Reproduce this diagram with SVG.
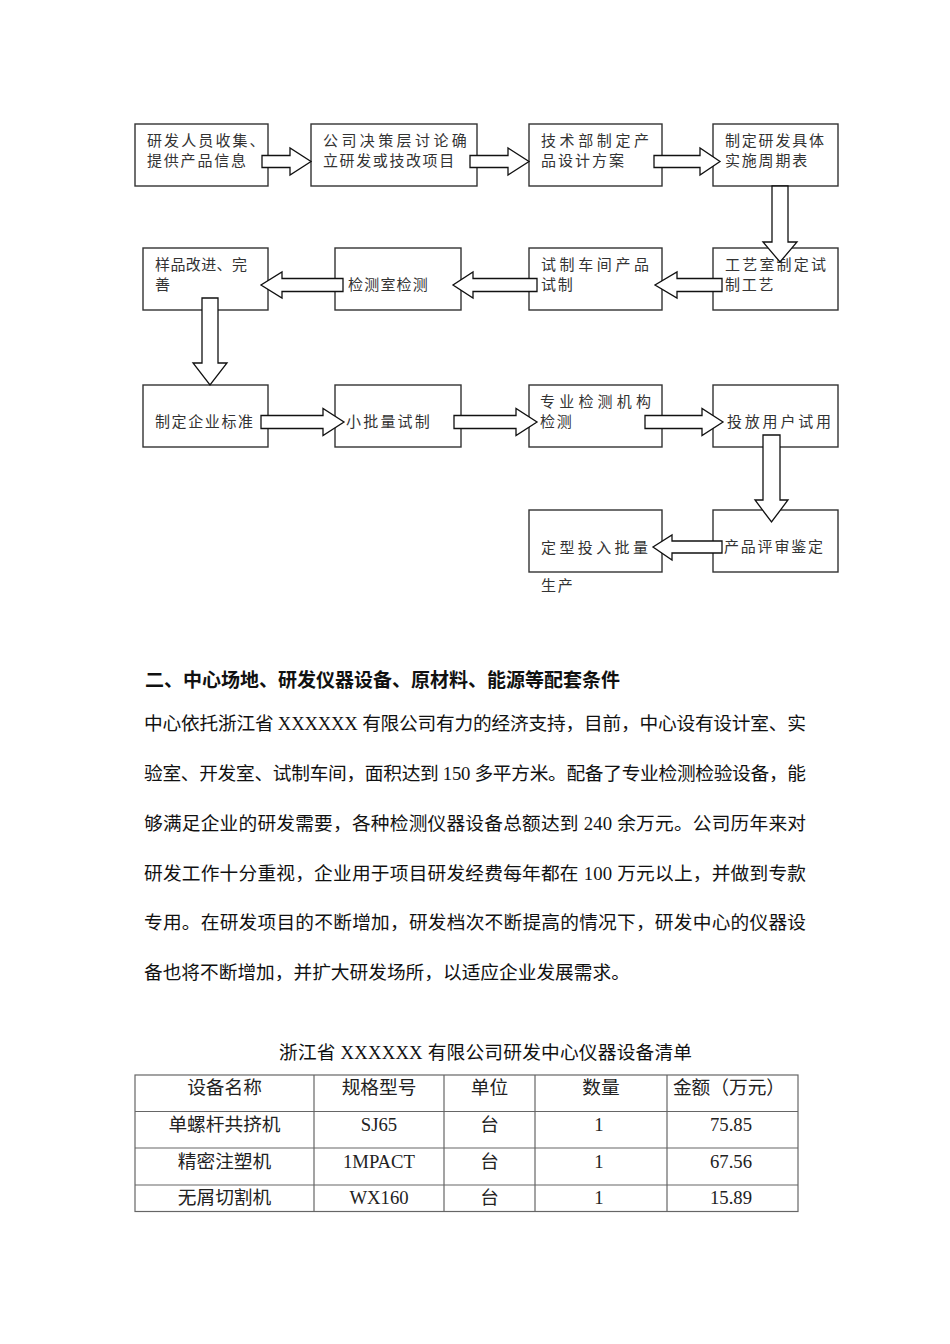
<svg xmlns="http://www.w3.org/2000/svg" width="950" height="1344" viewBox="0 0 950 1344">
<style>
.bx{fill:#fff;stroke:#333;stroke-width:1.4}
.ar{fill:#fff;stroke:#111;stroke-width:1.3;stroke-linejoin:miter}
.bt{font-family:"Noto Sans CJK SC","Noto Sans",sans-serif;font-size:15px;fill:#333}
.p{font-family:"Liberation Serif","Noto Sans CJK SC",serif;font-size:18.7px;fill:#111}
.h{font-family:"Noto Sans CJK SC",sans-serif;font-size:19px;font-weight:bold;fill:#111}
.tl{stroke:#666;stroke-width:1.2;fill:none}
.tc{font-family:"Liberation Serif","Noto Sans CJK SC",serif;font-size:18.7px;fill:#222;text-anchor:middle}
</style>
<rect width="950" height="1344" fill="#fff"/>

<g id="n1"><rect class="bx" x="135" y="124" width="133" height="62"/>
<text class="bt" x="147" y="146" letter-spacing="2.1">研发人员收集、</text>
<text class="bt" x="147" y="166" letter-spacing="1.8">提供产品信息</text></g>
<g id="n2"><rect class="bx" x="311" y="124" width="166" height="62"/>
<text class="bt" x="323" y="146" letter-spacing="3.4">公司决策层讨论确</text>
<text class="bt" x="323" y="166" letter-spacing="1.6">立研发或技改项目</text></g>
<g id="n3"><rect class="bx" x="529" y="124" width="133" height="62"/>
<text class="bt" x="541" y="146" letter-spacing="3.6">技术部制定产</text>
<text class="bt" x="541" y="166" letter-spacing="2">品设计方案</text></g>
<g id="n4"><rect class="bx" x="713" y="124" width="125" height="62"/>
<text class="bt" x="725" y="146" letter-spacing="1.8">制定研发具体</text>
<text class="bt" x="725" y="166" letter-spacing="1.8">实施周期表</text></g>

<g id="n5"><rect class="bx" x="143" y="248" width="125" height="62"/>
<text class="bt" x="155" y="270" letter-spacing="0.4">样品改进、完</text>
<text class="bt" x="155" y="290">善</text></g>
<g id="n6"><rect class="bx" x="335" y="248" width="126" height="62"/>
<text class="bt" x="348" y="290" letter-spacing="1.2">检测室检测</text></g>
<g id="n7"><rect class="bx" x="529" y="248" width="133" height="62"/>
<text class="bt" x="541" y="270" letter-spacing="3.6">试制车间产品</text>
<text class="bt" x="541" y="290" letter-spacing="1.7">试制</text></g>
<g id="n8"><rect class="bx" x="713" y="248" width="125" height="62"/>
<text class="bt" x="725" y="270" letter-spacing="2.2">工艺室制定试</text>
<text class="bt" x="725" y="290" letter-spacing="1.7">制工艺</text></g>

<g id="n9"><rect class="bx" x="143" y="385" width="125" height="62"/>
<text class="bt" x="155" y="427" letter-spacing="1.6">制定企业标准</text></g>
<g id="n10"><rect class="bx" x="335" y="385" width="126" height="62"/>
<text class="bt" x="346" y="427" letter-spacing="2.2">小批量试制</text></g>
<g id="n11"><rect class="bx" x="529" y="385" width="133" height="62"/>
<text class="bt" x="540" y="407" letter-spacing="4.2">专业检测机构</text>
<text class="bt" x="540" y="427" letter-spacing="1.7">检测</text></g>
<g id="n12"><rect class="bx" x="713" y="385" width="125" height="62"/>
<text class="bt" x="727" y="427" letter-spacing="2.8">投放用户试用</text></g>

<g id="n13"><rect class="bx" x="713" y="510" width="125" height="62"/>
<text class="bt" x="724" y="552" letter-spacing="1.8">产品评审鉴定</text></g>
<g id="n14"><rect class="bx" x="529" y="510" width="133" height="62"/>
<text class="bt" x="541" y="553" letter-spacing="3.4">定型投入批量</text>
<text class="bt" x="541" y="591" letter-spacing="1.7">生产</text></g>

<g id="connectors">
<polygon class="ar" points="262,155.5 290,155.5 290,148 311,161.5 290,175 290,167.5 262,167.5"/>
<polygon class="ar" points="470,155.5 508,155.5 508,148 529,161.5 508,175 508,167.5 470,167.5"/>
<polygon class="ar" points="654,155.5 700,155.5 700,148 720,161.5 700,175 700,167.5 654,167.5"/>
<polygon class="ar" points="772,186 788,186 788,242 797,242 780,262 763,242 772,242"/>
<polygon class="ar" points="722,278.5 677,278.5 677,272 655,285 677,298 677,291.5 722,291.5"/>
<polygon class="ar" points="537,278.5 473,278.5 473,272 453,285 473,298 473,291.5 537,291.5"/>
<polygon class="ar" points="343,278.5 282,278.5 282,272 261,285 282,298 282,291.5 343,291.5"/>
<polygon class="ar" points="202,298 218,298 218,363 227,363 210,385 193,363 202,363"/>
<polygon class="ar" points="261,415.5 323,415.5 323,408.5 344,422 323,435.5 323,428.5 261,428.5"/>
<polygon class="ar" points="454,415.5 516,415.5 516,408.5 537,422 516,435.5 516,428.5 454,428.5"/>
<polygon class="ar" points="645,415.5 702,415.5 702,408.5 723,422 702,435.5 702,428.5 645,428.5"/>
<polygon class="ar" points="763,435 780,435 780,500 788,500 771.5,522 755,500 763,500"/>
<polygon class="ar" points="722,541 672,541 672,535 653,547 672,560 672,553 722,553"/>
</g>

<g id="section">
<text class="h" x="145" y="687">二、中心场地、研发仪器设备、原材料、能源等配套条件</text>
<text class="p" x="144" y="730" textLength="662" lengthAdjust="spacing">中心依托浙江省 XXXXXX 有限公司有力的经济支持，目前，中心设有设计室、实</text>
<text class="p" x="144" y="780" textLength="662" lengthAdjust="spacing">验室、开发室、试制车间，面积达到 150 多平方米。配备了专业检测检验设备，能</text>
<text class="p" x="144" y="830" textLength="662" lengthAdjust="spacing">够满足企业的研发需要，各种检测仪器设备总额达到 240 余万元。公司历年来对</text>
<text class="p" x="144" y="880" textLength="662" lengthAdjust="spacing">研发工作十分重视，企业用于项目研发经费每年都在 100 万元以上，并做到专款</text>
<text class="p" x="144" y="929" textLength="662" lengthAdjust="spacing">专用。在研发项目的不断增加，研发档次不断提高的情况下，研发中心的仪器设</text>
<text class="p" x="144" y="979">备也将不断增加，并扩大研发场所，以适应企业发展需求。</text>
<text class="p" x="279" y="1059" textLength="413" lengthAdjust="spacing">浙江省 XXXXXX 有限公司研发中心仪器设备清单</text>
</g>

<g id="table">
<rect class="tl" x="135" y="1075" width="663" height="136.5"/>
<line class="tl" x1="135" y1="1111.5" x2="798" y2="1111.5"/>
<line class="tl" x1="135" y1="1148" x2="798" y2="1148"/>
<line class="tl" x1="135" y1="1185" x2="798" y2="1185"/>
<line class="tl" x1="314" y1="1075" x2="314" y2="1211.5"/>
<line class="tl" x1="444" y1="1075" x2="444" y2="1211.5"/>
<line class="tl" x1="535" y1="1075" x2="535" y2="1211.5"/>
<line class="tl" x1="667" y1="1075" x2="667" y2="1211.5"/>
<text class="tc" x="224.5" y="1094">设备名称</text>
<text class="tc" x="379" y="1094">规格型号</text>
<text class="tc" x="489.5" y="1094">单位</text>
<text class="tc" x="601" y="1094">数量</text>
<text class="tc" x="729" y="1094">金额（万元）</text>
<text class="tc" x="224.5" y="1131">单螺杆共挤机</text>
<text class="tc" x="379" y="1131">SJ65</text>
<text class="tc" x="489.5" y="1131">台</text>
<text class="tc" x="599" y="1131">1</text>
<text class="tc" x="731" y="1131">75.85</text>
<text class="tc" x="224.5" y="1168">精密注塑机</text>
<text class="tc" x="379" y="1168">1MPACT</text>
<text class="tc" x="489.5" y="1168">台</text>
<text class="tc" x="599" y="1168">1</text>
<text class="tc" x="731" y="1168">67.56</text>
<text class="tc" x="224.5" y="1204">无屑切割机</text>
<text class="tc" x="379" y="1204">WX160</text>
<text class="tc" x="489.5" y="1204">台</text>
<text class="tc" x="599" y="1204">1</text>
<text class="tc" x="731" y="1204">15.89</text>
</g>
</svg>
